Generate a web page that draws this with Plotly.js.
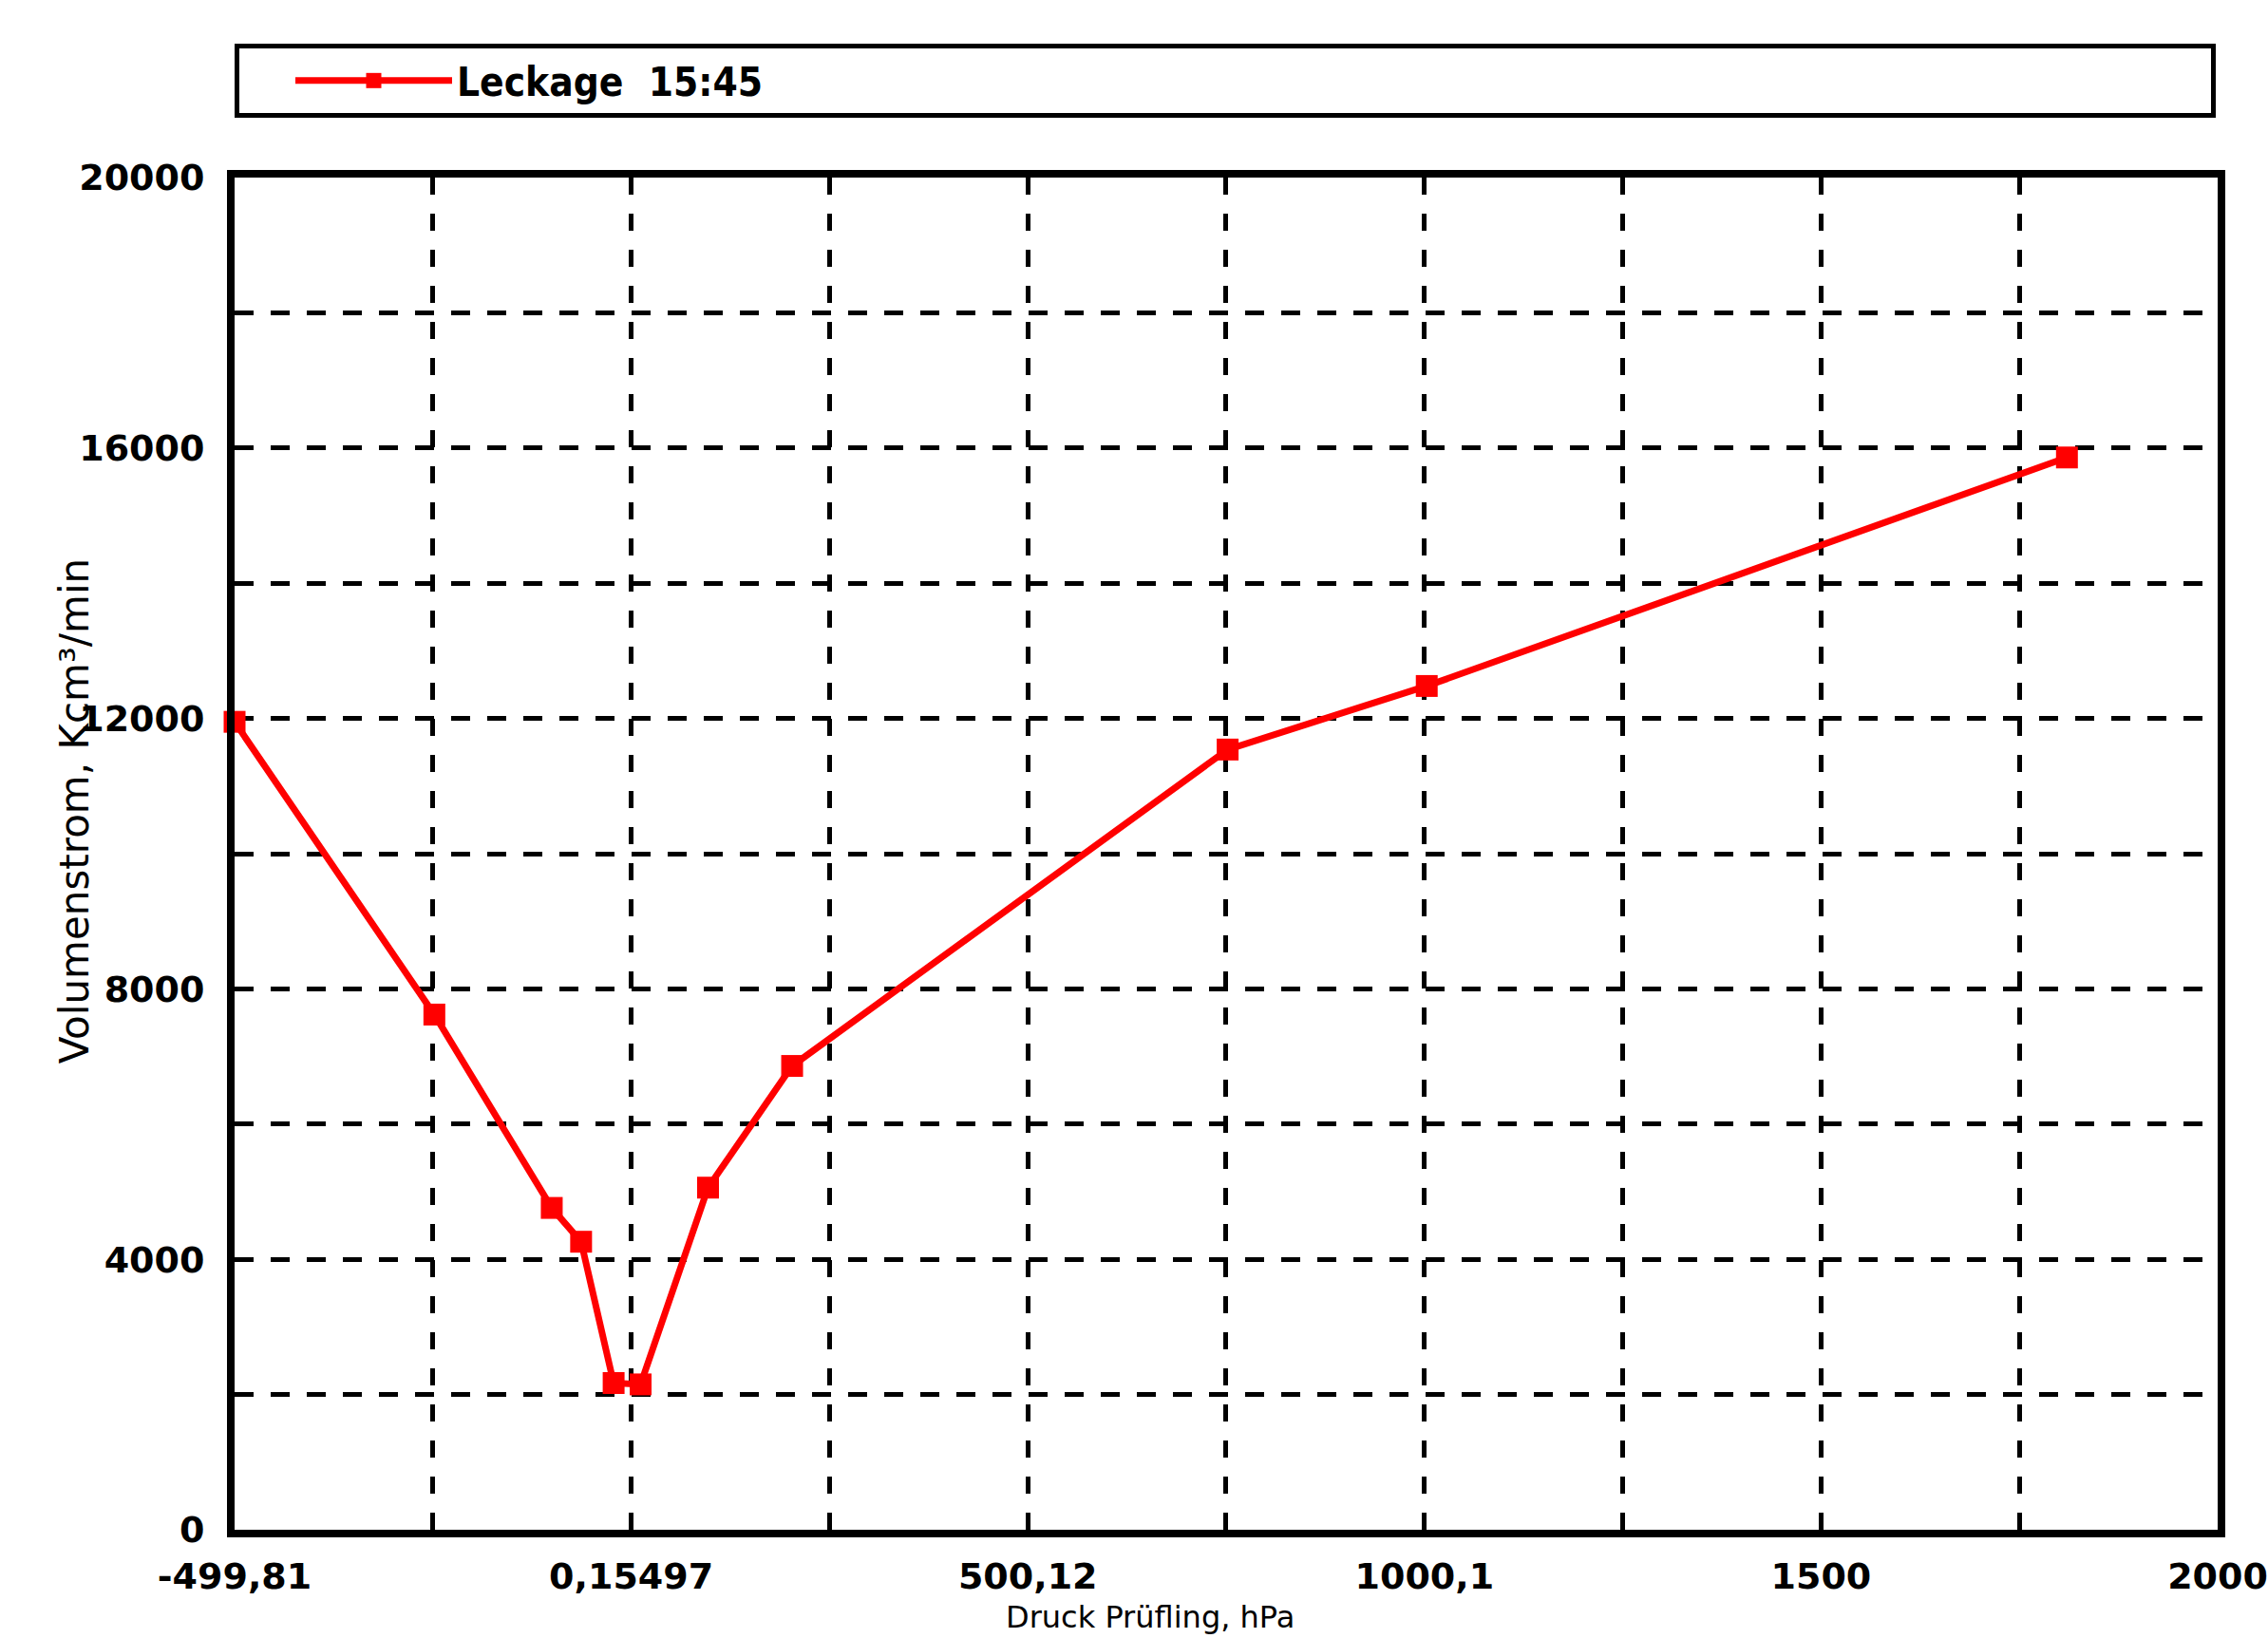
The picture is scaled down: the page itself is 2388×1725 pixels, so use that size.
<!DOCTYPE html>
<html>
<head>
<meta charset="utf-8">
<script src="https://cdn.plot.ly/plotly-3.0.1.min.js"></script>
<style>html,body{margin:0;padding:0;background:#fff;}#chart{width:2388px;height:1725px;}</style>
</head>
<body>
<div id="chart"></div>
<script>
// Data
const seriesName = "Leckage  15:45";
const druck = [-499.81, -248, -100, -63, -22, 12, 97, 203, 752, 1003, 1810];
const volumenstrom = [11950, 7620, 4760, 4260, 2170, 2150, 5060, 6860, 11540, 12480, 15860];

const xTickVals = [-499.81, -250, 0.15497, 250, 500.12, 750, 1000.1, 1250, 1500, 1750, 2000];
const xTickText = ["-499,81", "", "0,15497", "", "500,12", "", "1000,1", "", "1500", "", "2000"];
const yTickVals = [0, 2000, 4000, 6000, 8000, 10000, 12000, 14000, 16000, 18000, 20000];
const yTickText = ["0", "", "4000", "", "8000", "", "12000", "", "16000", "", "20000"];

const xTitle = "Druck Prüfling, hPa";
const yTitle = "Volumenstrom, Kcm³/min";

const trace = {
  x: druck,
  y: volumenstrom,
  name: seriesName,
  type: "scatter",
  mode: "lines+markers",
  line: {color: "#ff0000", width: 7},
  marker: {symbol: "square", size: 23, color: "#ff0000"},
  cliponaxis: false,
  showlegend: true
};

const tickFont = {family: "DejaVu Sans", size: 38, color: "#000", weight: "bold"};

const layout = {
  width: 2388,
  height: 1725,
  paper_bgcolor: "#ffffff",
  plot_bgcolor: "#ffffff",
  margin: {l: 247, r: 53, t: 187, b: 114, autoexpand: false},
  showlegend: true,
  legend: {
    orientation: "h",
    x: 0, xanchor: "left",
    y: 1.099, yanchor: "top",
    bordercolor: "#000",
    borderwidth: 5,
    bgcolor: "#fff",
    entrywidth: 1842,
    itemwidth: 165,
    indentation: 54,
    font: {family: "DejaVu Sans Condensed", size: 42, color: "#000", weight: "bold"}
  },
  xaxis: {
    range: [-499.81, 2000],
    tickmode: "array",
    tickvals: xTickVals,
    ticktext: xTickText,
    tickfont: tickFont,
    ticks: "",
    ticklabelstandoff: 8,
    showline: true, linecolor: "#000", linewidth: 8, mirror: true,
    showgrid: true, gridcolor: "#000", gridwidth: 5, griddash: "18px,20px",
    zeroline: false,
    automargin: false
  },
  yaxis: {
    range: [0, 20000],
    tickmode: "array",
    tickvals: yTickVals,
    ticktext: yTickText,
    tickfont: tickFont,
    ticks: "",
    ticklabelstandoff: 16,
    showline: true, linecolor: "#000", linewidth: 8, mirror: true,
    showgrid: true, gridcolor: "#000", gridwidth: 5, griddash: "20px,18px",
    zeroline: false,
    automargin: false
  },
  annotations: [
    {text: xTitle, xref: "paper", yref: "paper", x: 0.4617, y: -0.0794,
     xanchor: "center", yanchor: "bottom", showarrow: false,
     font: {family: "DejaVu Sans", size: 32, color: "#000"}},
    {text: yTitle, xref: "paper", yref: "paper", x: -0.0805, y: 0.532,
     xanchor: "center", yanchor: "middle", showarrow: false, textangle: -90,
     font: {family: "DejaVu Sans", size: 42, color: "#000"}}
  ]
};

Plotly.newPlot("chart", [trace], layout, {staticPlot: true, displayModeBar: false});
</script>
</body>
</html>
